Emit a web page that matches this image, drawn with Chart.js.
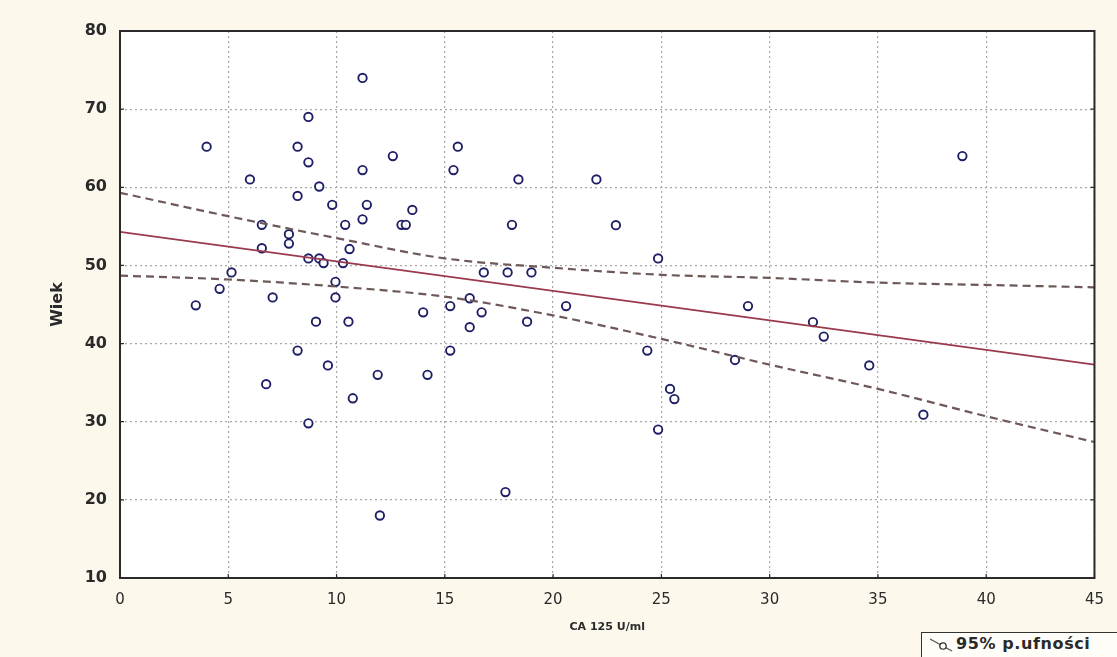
<!DOCTYPE html>
<html>
<head>
<meta charset="utf-8">
<script src="https://cdn.jsdelivr.net/npm/chart.js@4.4.1/dist/chart.umd.min.js"></script>
<style>
  html, body { margin: 0; padding: 0; background: #fcf8ec; }
  #wrap { position: relative; width: 1117px; height: 657px; overflow: hidden; }
  #legend {
    position: absolute; left: 921px; top: 632px; width: 220px; height: 40px;
    border-left: 1.5px solid #333; border-top: 1.5px solid #333;
    background: #fffdf7; box-sizing: border-box;
    font-family: "DejaVu Sans", sans-serif; font-size: 16px; font-weight: bold; color: #2a2a2a;
    letter-spacing: 0.6px;
  }
  #legend svg { position: absolute; left: 6px; top: 3px; }
  #legend span { position: absolute; left: 34px; top: 1px; white-space: nowrap; }
</style>
</head>
<body>
<div id="wrap">
  <canvas id="c" width="1117" height="657"></canvas>
  <div id="legend">
    <svg width="28" height="18" viewBox="0 0 28 18">
      <line x1="2" y1="3" x2="24" y2="15" stroke="#555" stroke-width="1.3"/>
      <circle cx="15" cy="10" r="3.2" fill="#fffdf7" stroke="#333" stroke-width="1.3"/>
    </svg>
    <span>95% p.ufności</span>
  </div>
</div>
<script>
// ---- data ----
const caValues = [3.5, 4.0, 4.6, 5.15, 6.0, 6.55, 6.55, 6.75, 7.05, 7.8, 7.8, 8.2, 8.2, 8.2, 8.7, 8.7, 8.7, 8.7,
  9.05, 9.2, 9.2, 9.4, 9.6, 9.8, 9.95, 9.95, 10.3, 10.4, 10.6, 10.55, 10.75, 11.2, 11.2, 11.2, 11.4, 11.9, 12.0,
  12.6, 13.0, 13.2, 13.5, 14.0, 14.2, 15.25, 15.25, 15.4, 15.6, 16.15, 16.15, 16.7, 16.8, 17.8, 17.9, 18.1, 18.4,
  18.8, 19.0, 20.6, 22.0, 22.9, 24.35, 24.85, 24.85, 25.4, 25.6, 28.4, 29.0, 32.0, 32.5, 34.6, 37.1, 38.9];
const ageValues = [44.9, 65.2, 47.0, 49.1, 61.0, 55.2, 52.2, 34.8, 45.9, 54.0, 52.8, 65.2, 58.9, 39.1, 69.0, 63.2, 50.9, 29.8,
  42.8, 60.1, 50.9, 50.3, 37.2, 57.75, 47.9, 45.9, 50.3, 55.2, 52.1, 42.8, 33.0, 74.0, 62.2, 55.9, 57.75, 36.0, 18.0,
  64.0, 55.2, 55.2, 57.1, 44.0, 36.0, 44.8, 39.1, 62.2, 65.2, 45.8, 42.1, 44.0, 49.1, 21.0, 49.1, 55.2, 61.0,
  42.8, 49.1, 44.8, 61.0, 55.15, 39.1, 50.9, 29.0, 34.2, 32.9, 37.9, 44.8, 42.75, 40.9, 37.2, 30.9, 64.0];

const fitX = [0, 45];
const fitY = [54.3, 37.3];

const bandX = [0, 5, 10, 15, 20, 25, 30, 35, 40, 45];
const bandUpper = [59.3, 56.3, 53.5, 50.9, 49.7, 48.8, 48.4, 47.8, 47.5, 47.2];
const bandLower = [48.7, 48.2, 47.3, 46.0, 43.6, 40.6, 37.3, 34.2, 30.7, 27.4];

const xTickValues = [0, 5, 10, 15, 20, 25, 30, 35, 40, 45];
const yTickValues = [10, 20, 30, 40, 50, 60, 70, 80];

const xTitle = "CA 125 U/ml";
const yTitle = "Wiek";

// ---- build ----
const pts = caValues.map((v, i) => ({x: v, y: ageValues[i]}));
const fitPts = fitX.map((v, i) => ({x: v, y: fitY[i]}));
const upPts = bandX.map((v, i) => ({x: v, y: bandUpper[i]}));
const loPts = bandX.map((v, i) => ({x: v, y: bandLower[i]}));

const bgPlugin = {
  id: 'bg',
  beforeDraw(chart) {
    const {ctx, chartArea: a} = chart;
    ctx.save();
    ctx.fillStyle = '#fcf8ec';
    ctx.fillRect(0, 0, chart.width, chart.height);
    ctx.fillStyle = '#ffffff';
    ctx.fillRect(a.left, a.top, a.right - a.left, a.bottom - a.top);
    ctx.restore();
  }
};

const framePlugin = {
  id: 'frame',
  afterDraw(chart) {
    const {ctx, chartArea: a, scales} = chart;
    ctx.save();
    ctx.strokeStyle = '#2a2a2a';
    ctx.lineWidth = 2;
    ctx.strokeRect(a.left, a.top, a.right - a.left, a.bottom - a.top);
    ctx.lineWidth = 1.2;
    ctx.beginPath();
    xTickValues.forEach(v => {
      const px = scales.x.getPixelForValue(v);
      ctx.moveTo(px, a.bottom); ctx.lineTo(px, a.bottom - 4);
    });
    yTickValues.forEach(v => {
      const py = scales.y.getPixelForValue(v);
      ctx.moveTo(a.right, py); ctx.lineTo(a.right - 4, py);
      ctx.moveTo(a.left, py); ctx.lineTo(a.left + 4, py);
    });
    ctx.stroke();
    ctx.restore();
  }
};

new Chart(document.getElementById('c'), {
  type: 'scatter',
  data: {
    datasets: [
      { label: 'upper', data: upPts, showLine: true, borderColor: '#6e5858', borderWidth: 2.2,
        borderDash: [8, 5], pointRadius: 0, cubicInterpolationMode: 'monotone', fill: false },
      { label: 'lower', data: loPts, showLine: true, borderColor: '#6e5858', borderWidth: 2.2,
        borderDash: [8, 5], pointRadius: 0, cubicInterpolationMode: 'monotone', fill: false },
      { label: 'fit', data: fitPts, showLine: true, borderColor: '#9a3a4c', borderWidth: 1.7,
        pointRadius: 0, fill: false },
      { label: 'data', data: pts, pointRadius: 4.2, pointBorderWidth: 1.9,
        pointBorderColor: '#1f1f66', pointBackgroundColor: 'rgba(255,255,255,0.9)', showLine: false }
    ]
  },
  options: {
    responsive: false,
    animation: false,
    layout: { padding: { top: 31, right: 22, left: 0, bottom: 0 } },
    plugins: { legend: { display: false }, tooltip: { enabled: false } },
    scales: {
      x: {
        type: 'linear', min: 0, max: 45,
        afterFit(s) { s.height = 79; },
        afterBuildTicks(s) { s.ticks = xTickValues.map(v => ({value: v})); },
        ticks: { padding: 13, color: '#2a2a2a', font: { family: 'DejaVu Sans', size: 15 } },
        grid: { color: '#a8a8a8', lineWidth: 1.2, drawTicks: false },
        border: { display: false, dash: [2, 3] },
        title: { display: true, text: xTitle, color: '#2a2a2a',
          font: { family: 'DejaVu Sans', size: 11, weight: 'bold' }, padding: { top: 0, bottom: 23 } }
      },
      y: {
        type: 'linear', min: 10, max: 80,
        afterFit(s) { s.width = 120; },
        afterBuildTicks(s) { s.ticks = yTickValues.map(v => ({value: v})); },
        ticks: { padding: 13, color: '#2a2a2a', font: { family: 'DejaVu Sans', size: 16, weight: 'bold' } },
        grid: { color: '#a8a8a8', lineWidth: 1.2, drawTicks: false },
        border: { display: false, dash: [2, 3] },
        title: { display: true, text: yTitle, color: '#2a2a2a',
          font: { family: 'DejaVu Sans', size: 16, weight: 'bold' }, padding: { top: 48, bottom: 0 } }
      }
    }
  },
  plugins: [bgPlugin, framePlugin]
});
</script>
</body>
</html>
